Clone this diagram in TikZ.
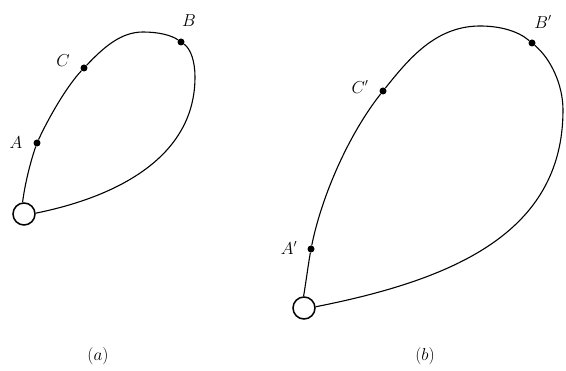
\documentclass[tikz,border=0pt]{standalone}
\begin{document}
\begin{tikzpicture}[x=1pt,y=-1pt,
  curve/.style={line width=1.1pt, line join=round},
  dot/.style={circle,fill,inner sep=0pt,minimum size=7pt},
  ring/.style={circle,draw,line width=1.5pt,minimum size=22pt,inner sep=0pt,fill=white},
  lbl/.style={font=\fontsize{16}{19}\selectfont, inner sep=0pt}]
\useasboundingbox (0,0) rectangle (566,371);
% ---------- (a) ----------
\node[ring] (O1) at (24,214) {};
\node[dot] (A) at (37,143) {};
\node[dot] (C) at (84,68) {};
\node[dot] (B) at (181,42) {};
\coordinate (T1) at (143,32);
\coordinate (R1) at (195,77);
\draw[curve] (O1.97) .. controls (25,183) and (31,160) .. (A)
  .. controls (49,117) and (67,86) .. (C)
  .. controls (104,47) and (121,32) .. (T1)
  .. controls (158,32) and (171,35) .. (B)
  .. controls (191,49) and (195,62) .. (R1)
  .. controls (195,176) and (76,205) .. (O1.4);
\node[lbl] (lA) at (16,143) {$A$};
\node[lbl] (lC) at (63,61) {$C$};
\node[lbl] (lB) at (189,21) {$B$};
\node[lbl] (capa) at (98,356) {$(a)$};
% ---------- (b) ----------
\node[ring] (O2) at (304,308) {};
\node[dot] (A2) at (311,249) {};
\node[dot] (C2) at (383,91) {};
\node[dot] (B2) at (532,43) {};
\coordinate (T2) at (480,26);
\coordinate (R2) at (563,110);
\draw[curve] (O2.92) .. controls (306,282) and (308,266) .. (A2)
  .. controls (322,195) and (349,134) .. (C2)
  .. controls (408,60) and (435,26) .. (T2)
  .. controls (500,26) and (518,31) .. (B2)
  .. controls (551,59) and (563,85) .. (R2)
  .. controls (563,234) and (451,280) .. (O2.6);
\node[lbl] (lA2) at (289,248) {$A'$};
\node[lbl] (lC2) at (360,87) {$C'$};
\node[lbl] (lB2) at (543,22) {$B'$};
\node[lbl] (capb) at (425,356) {$(b)$};
\end{tikzpicture}
\end{document}
